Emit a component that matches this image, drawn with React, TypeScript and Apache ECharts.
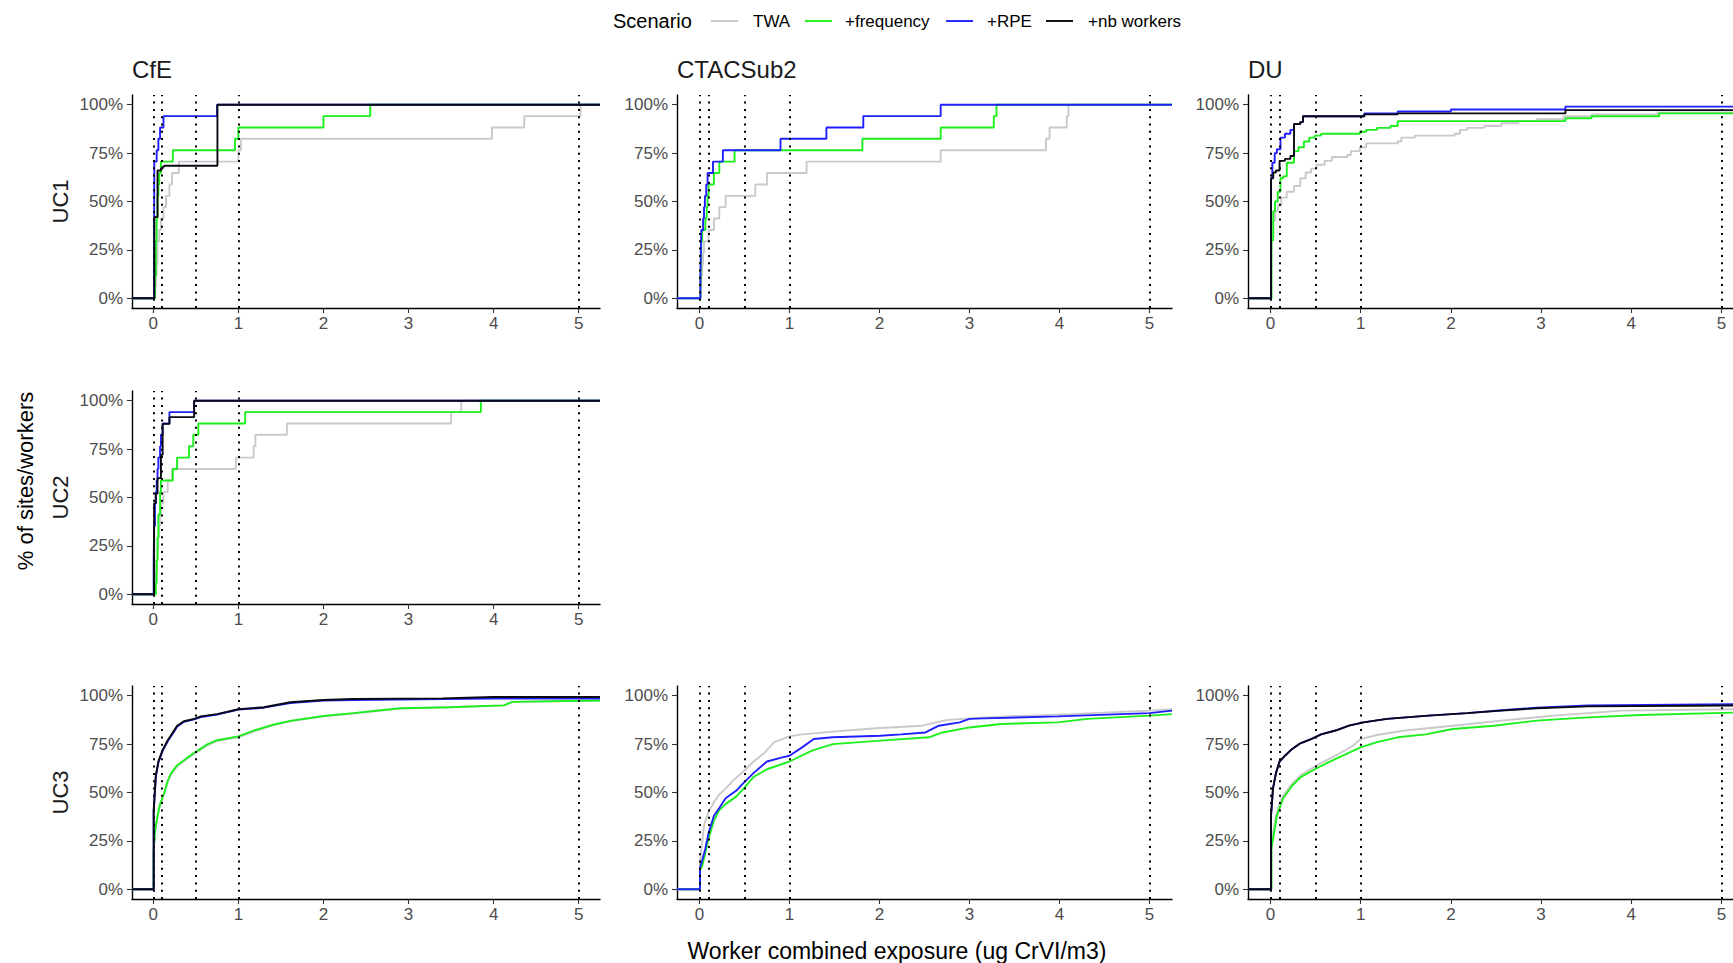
import React, { useEffect, useRef } from "react";
import * as echarts from "echarts";

// ---------- categories / labels ----------
const companies = ["CfE", "CTACSub2", "DU"];
const useCases = ["UC1", "UC2", "UC3"];
const scenarios = ["TWA", "+frequency", "+RPE", "+nb workers"];
const scenarioColors = ["#c9c9c9", "#1cf01c", "#2020ff", "#0a0a14"];
const xTicks = [0, 1, 2, 3, 4, 5];
const yTicks = [0, 0.25, 0.5, 0.75, 1];
const thresholds = [0, 0.1, 0.5, 1, 5];
const xRange = [-0.25, 5.25];
const yRange = [-0.05, 1.05];
const yTitle = "% of sites/workers";
const xTitle = "Worker combined exposure (ug CrVI/m3)";
const legendTitle = "Scenario";

// ---------- ECDF step points [x, cumulative share] ----------
// CfE UC1
const cfeUC1TWA = [[0.02,.059],[0.03,.118],[0.04,.176],[0.05,.294],[0.07,.353],[0.09,.412],[0.12,.471],[0.15,.529],[0.19,.588],[0.22,.647],[0.3,.706],[1.0,.765],[1.03,.824],[3.98,.882],[4.36,.941],[5.02,1]];
const cfeUC1Freq = [[0.02,.118],[0.03,.294],[0.04,.412],[0.05,.529],[0.06,.588],[0.07,.647],[0.09,.706],[0.23,.765],[0.96,.824],[1.0,.882],[2.0,.941],[2.55,1]];
const cfeUC1RPE = [[0.01,.412],[0.012,.706],[0.04,.765],[0.06,.824],[0.08,.882],[0.12,.941],[0.75,1]];
const cfeUC1NbW = [[0.012,.42],[0.05,.66],[0.09,.67],[0.11,.68],[0.13,.685],[0.754,1]];
// CTACSub2 UC1
const ctaUC1TWA = [[0.01,.059],[0.02,.118],[0.03,.176],[0.04,.235],[0.05,.294],[0.10,.353],[0.16,.412],[0.22,.471],[0.29,.529],[0.62,.588],[0.75,.647],[1.19,.706],[2.68,.765],[3.85,.824],[3.89,.882],[4.08,.941],[4.10,1]];
const ctaUC1Freq = [[0.01,.059],[0.015,.176],[0.02,.294],[0.03,.353],[0.065,.412],[0.08,.471],[0.09,.529],[0.10,.588],[0.16,.647],[0.22,.706],[0.39,.765],[1.81,.824],[2.68,.882],[3.27,.941],[3.30,1]];
const ctaUC1RPE = [[0.01,.118],[0.015,.235],[0.02,.353],[0.04,.412],[0.05,.471],[0.06,.529],[0.075,.588],[0.09,.647],[0.15,.706],[0.26,.765],[0.90,.824],[1.41,.882],[1.82,.941],[2.68,1]];
// DU UC1
const duUC1TWA = [[0.01,.25],[0.015,.33],[0.03,.4],[0.05,.45],[0.08,.48],[0.12,.52],[0.18,.55],[0.26,.58],[0.33,.62],[0.39,.65],[0.45,.67],[0.51,.69],[0.6,.71],[0.68,.73],[0.85,.74],[0.89,.76],[0.99,.78],[1.06,.8],[1.41,.81],[1.45,.83],[1.6,.84],[2.04,.85],[2.1,.87],[2.18,.88],[2.37,.89],[2.56,.905],[2.75,.915],[2.95,.925],[3.25,.94],[3.56,.95],[4.29,.96]];
const duUC1Freq = [[0.01,.3],[0.03,.45],[0.05,.5],[0.08,.55],[0.11,.62],[0.14,.63],[0.18,.7],[0.26,.76],[0.31,.78],[0.37,.81],[0.43,.83],[0.49,.84],[0.56,.85],[0.99,.86],[1.06,.87],[1.18,.88],[1.33,.89],[1.41,.915],[3.27,.93],[3.56,.94],[4.31,.955]];
const duUC1RPE = [[0.005,.62],[0.02,.7],[0.046,.75],[0.07,.77],[0.11,.83],[0.16,.85],[0.22,.87],[0.26,.9],[0.33,.91],[0.36,.94],[1.04,.955],[1.41,.965],[2.0,.975],[3.27,.99]];
const duUC1NbW = [[0.005,.62],[0.03,.65],[0.06,.66],[0.1,.71],[0.16,.72],[0.22,.735],[0.26,.9],[0.33,.91],[0.36,.94],[1.04,.95],[1.41,.955],[3.27,.972]];
// CfE UC2
const cfeUC2TWA = [[0.02,.059],[0.03,.118],[0.04,.176],[0.05,.235],[0.06,.294],[0.07,.353],[0.08,.412],[0.09,.471],[0.12,.529],[0.17,.588],[0.22,.647],[0.97,.706],[1.18,.765],[1.2,.824],[1.57,.882],[3.5,.941],[3.62,1]];
const cfeUC2Freq = [[0.03,.059],[0.04,.176],[0.05,.294],[0.06,.412],[0.08,.529],[0.09,.588],[0.23,.647],[0.28,.706],[0.42,.765],[0.47,.824],[0.53,.882],[1.08,.941],[3.85,1]];
const cfeUC2RPE = [[0.005,.176],[0.01,.353],[0.02,.471],[0.03,.529],[0.04,.588],[0.05,.647],[0.06,.706],[0.08,.765],[0.09,.824],[0.11,.882],[0.19,.941],[0.48,1]];
const cfeUC2NbW = [[0.01,.47],[0.03,.52],[0.05,.6],[0.09,.72],[0.11,.88],[0.19,.915],[0.48,1]];
// CfE UC3
const cfeUC3TWA = [[0.005,.19],[0.02,.29],[0.05,.375],[0.08,.435],[0.13,.495],[0.17,.555],[0.21,.595],[0.28,.635],[0.4,.675],[0.5,.705],[0.64,.745],[0.75,.765],[1.0,.785],[1.18,.815],[1.41,.848],[1.61,.868],[2.0,.893],[2.35,.908],[2.9,.933],[3.48,.94],[4.12,.95],[4.22,.968],[5.25,.975]];
const cfeUC3Freq = [[0.005,.2],[0.02,.3],[0.05,.38],[0.08,.44],[0.13,.5],[0.17,.56],[0.21,.6],[0.28,.64],[0.4,.68],[0.5,.71],[0.64,.75],[0.75,.77],[1.0,.79],[1.18,.82],[1.41,.85],[1.61,.87],[2.0,.895],[2.35,.91],[2.9,.935],[3.48,.94],[4.12,.95],[4.22,.968],[5.25,.975]];
const cfeUC3RPE = [[0.005,.40],[0.03,.58],[0.06,.655],[0.11,.715],[0.17,.765],[0.23,.805],[0.28,.84],[0.36,.865],[0.48,.878],[0.56,.89],[0.75,.903],[1.0,.928],[1.3,.938],[1.61,.962],[2.0,.975],[2.35,.978],[3.4,.982],[3.99,.985]];
const cfeUC3NbW = [[0.005,.41],[0.03,.59],[0.06,.66],[0.11,.72],[0.17,.77],[0.23,.81],[0.28,.845],[0.36,.868],[0.48,.88],[0.56,.893],[0.75,.905],[1.0,.93],[1.3,.94],[1.61,.966],[2.0,.978],[2.35,.983],[3.4,.986],[3.99,.993]];
// CTACSub2 UC3
const ctaUC3TWA = [[0.005,.14],[0.05,.33],[0.10,.40],[0.16,.45],[0.22,.49],[0.29,.52],[0.37,.56],[0.49,.61],[0.6,.66],[0.71,.70],[0.83,.76],[1.0,.79],[1.14,.80],[1.63,.82],[2.01,.833],[2.47,.845],[2.74,.874],[3.16,.888],[4.12,.905],[5.0,.923],[5.25,.93]];
const ctaUC3Freq = [[0.005,.10],[0.03,.12],[0.10,.26],[0.16,.355],[0.22,.41],[0.29,.44],[0.41,.48],[0.49,.52],[0.6,.58],[0.75,.62],[1.0,.66],[1.25,.716],[1.48,.75],[2.01,.768],[2.55,.785],[2.7,.81],[3.0,.836],[3.35,.854],[3.98,.862],[4.31,.88],[5.0,.897],[5.25,.905]];
const ctaUC3RPE = [[0.005,.11],[0.03,.15],[0.065,.21],[0.10,.29],[0.16,.38],[0.22,.42],[0.29,.47],[0.41,.51],[0.49,.55],[0.6,.60],[0.75,.66],[0.91,.68],[1.0,.69],[1.14,.733],[1.27,.776],[1.48,.785],[2.01,.793],[2.24,.80],[2.51,.81],[2.66,.845],[2.89,.862],[3.0,.88],[3.16,.883],[3.98,.893],[5.0,.91],[5.25,.923]];
// DU UC3
const duUC3TWA = [[0.01,.24],[0.06,.38],[0.12,.47],[0.22,.535],[0.33,.587],[0.51,.64],[0.72,.69],[0.91,.74],[1.0,.776],[1.18,.797],[1.49,.82],[2.02,.845],[2.56,.871],[3.14,.897],[3.9,.923],[5.25,.931]];
const duUC3Freq = [[0.01,.21],[0.07,.38],[0.14,.47],[0.24,.535],[0.33,.578],[0.49,.62],[0.64,.656],[0.80,.69],[1.0,.733],[1.18,.76],[1.41,.785],[1.72,.80],[2.02,.828],[2.48,.845],[2.95,.871],[3.52,.888],[4.1,.90],[5.25,.914]];
const duUC3RPE = [[0.005,.38],[0.027,.52],[0.06,.60],[0.10,.66],[0.16,.69],[0.24,.725],[0.33,.754],[0.45,.776],[0.56,.80],[0.72,.82],[0.87,.845],[1.03,.862],[1.29,.88],[1.75,.897],[2.18,.91],[2.56,.925],[2.95,.938],[3.52,.95],[5.25,.956]];
const duUC3NbW = [[0.005,.38],[0.027,.52],[0.06,.60],[0.10,.66],[0.16,.69],[0.24,.725],[0.33,.754],[0.45,.776],[0.56,.80],[0.72,.82],[0.87,.845],[1.03,.862],[1.29,.88],[1.75,.897],[2.18,.91],[2.56,.923],[2.95,.935],[3.52,.945],[5.25,.95]];

// panels: column (company), row (use case), lines per scenario, drawn as steps or as dense curve
const panels = [
  { col: 0, row: 0, stepped: true, lines: [cfeUC1TWA, cfeUC1Freq, cfeUC1RPE, cfeUC1NbW] },
  { col: 1, row: 0, stepped: true, lines: [ctaUC1TWA, ctaUC1Freq, ctaUC1RPE, null] },
  { col: 2, row: 0, stepped: true, lines: [duUC1TWA, duUC1Freq, duUC1RPE, duUC1NbW] },
  { col: 0, row: 1, stepped: true, lines: [cfeUC2TWA, cfeUC2Freq, cfeUC2RPE, cfeUC2NbW] },
  { col: 0, row: 2, stepped: false, lines: [cfeUC3TWA, cfeUC3Freq, cfeUC3RPE, cfeUC3NbW] },
  { col: 1, row: 2, stepped: false, lines: [ctaUC3TWA, ctaUC3Freq, ctaUC3RPE, null] },
  { col: 2, row: 2, stepped: false, lines: [duUC3TWA, duUC3Freq, duUC3RPE, duUC3NbW] },
];

// layout (pixels)
const FONT = '"Liberation Sans", Arial, Helvetica, sans-serif';
const colLeft = [132, 677, 1248];
const colWidth = [468, 495, 496];
const rowTop = [95, 391, 686];
const rowHeight = 213;

function buildOption() {
  const grid: any[] = [];
  const xAxis: any[] = [];
  const yAxis: any[] = [];
  const series: any[] = [];
  const graphic: any[] = [];

  panels.forEach((p, i) => {
    grid.push({ left: colLeft[p.col], top: rowTop[p.row], width: colWidth[p.col], height: rowHeight,
      containLabel: false, outerBoundsMode: "none" });
    xAxis.push({
      type: "value", gridIndex: i, min: xRange[0], max: xRange[1],
      axisLine: { show: true, onZero: false, lineStyle: { color: "#000", width: 1.4 } },
      axisTick: { show: true, length: 5, customValues: xTicks, lineStyle: { color: "#333", width: 1.1 } },
      axisLabel: { customValues: xTicks, color: "#4d4d4d", fontSize: 17, fontFamily: FONT, margin: 7 },
      splitLine: { show: false },
    });
    yAxis.push({
      type: "value", gridIndex: i, min: yRange[0], max: yRange[1],
      axisLine: { show: true, onZero: false, lineStyle: { color: "#000", width: 1.4 } },
      axisTick: { show: true, length: 5, customValues: yTicks, lineStyle: { color: "#333", width: 1.1 } },
      axisLabel: { customValues: yTicks, color: "#4d4d4d", fontSize: 17, fontFamily: FONT, margin: 9,
        formatter: (v: number) => Math.round(v * 100) + "%" },
      splitLine: { show: false },
    });
    p.lines.forEach((d, s) => {
      if (!d) return;
      const last = d[d.length - 1][1];
      const data = p.stepped
        ? [[xRange[0], 0], ...d, [xRange[1], last]]
        : [[xRange[0], 0], [d[0][0], 0], ...d, [xRange[1], last]];
      const ser: any = {
        type: "line", name: scenarios[s], xAxisIndex: i, yAxisIndex: i, data,
        step: p.stepped ? "end" : false, symbol: "none", showSymbol: false, silent: true,
        lineStyle: { color: scenarioColors[s], width: 1.9 }, itemStyle: { color: scenarioColors[s] },
        z: 2 + s, clip: true,
      };
      if (s === 0) {
        ser.markLine = {
          silent: true, symbol: ["none", "none"], label: { show: false },
          lineStyle: { color: "#000", width: 2, type: [2, 5.3] },
          data: thresholds.map((t) => ({ xAxis: t })),
        };
      }
      series.push(ser);
    });
  });

  // column titles
  companies.forEach((c, k) => {
    graphic.push({ type: "text", x: colLeft[k], y: 69, style: { text: c, fontSize: 24, fontFamily: FONT, fill: "#1a1a1a", align: "left", verticalAlign: "middle" } });
  });
  // row labels
  useCases.forEach((u, r) => {
    graphic.push({ type: "text", x: 60, y: rowTop[r] + rowHeight / 2, rotation: Math.PI / 2,
      style: { text: u, fontSize: 22, fontFamily: FONT, fill: "#1a1a1a", align: "center", verticalAlign: "middle" } });
  });
  // axis titles
  graphic.push({ type: "text", x: 25, y: 481, rotation: Math.PI / 2,
    style: { text: yTitle, fontSize: 22, fontFamily: FONT, fill: "#000", align: "center", verticalAlign: "middle" } });
  graphic.push({ type: "text", x: 897, y: 951,
    style: { text: xTitle, fontSize: 23, fontFamily: FONT, fill: "#000", align: "center", verticalAlign: "middle" } });

  // legend
  const keyX = [711, 805, 946, 1046];
  const textX = [753, 845, 987, 1088];
  graphic.push({ type: "text", x: 613, y: 21, style: { text: legendTitle, fontSize: 20, fontFamily: FONT, fill: "#000", align: "left", verticalAlign: "middle" } });
  scenarios.forEach((s, k) => {
    graphic.push({ type: "line", shape: { x1: keyX[k], y1: 21, x2: keyX[k] + 27, y2: 21 }, style: { stroke: scenarioColors[k], lineWidth: 1.9 } });
    graphic.push({ type: "text", x: textX[k], y: 21, style: { text: s, fontSize: 17, fontFamily: FONT, fill: "#000", align: "left", verticalAlign: "middle" } });
  });

  return { animation: false, backgroundColor: "#fff", grid, xAxis, yAxis, series, graphic };
}

export default function App() {
  const ref = useRef<HTMLDivElement>(null);
  useEffect(() => {
    if (!ref.current) return;
    const chart = echarts.init(ref.current, undefined, { renderer: "svg" });
    chart.setOption(buildOption() as any);
    return () => chart.dispose();
  }, []);
  return <div ref={ref} style={{ position: "fixed", left: 0, top: 0, width: 1733, height: 963 }} />;
}
